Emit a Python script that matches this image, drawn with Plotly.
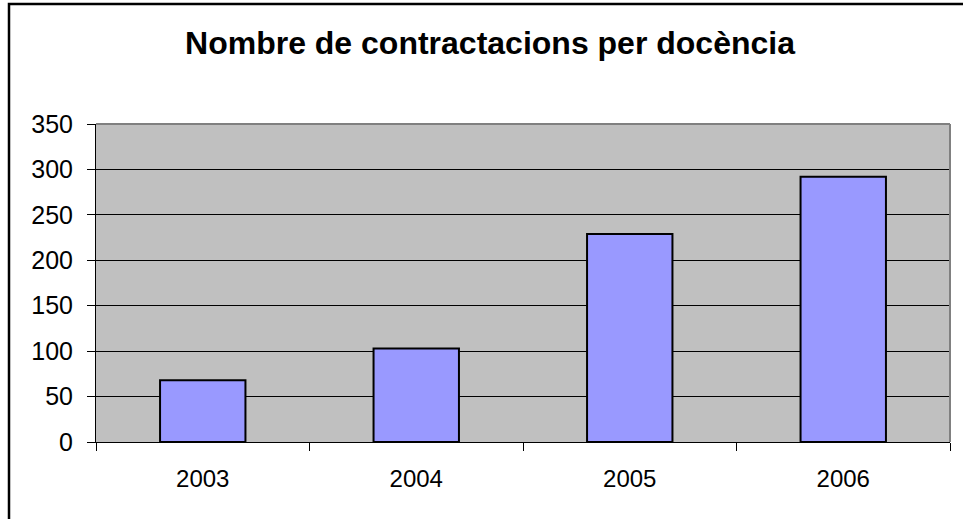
import plotly.graph_objects as go

years = ["2003", "2004", "2005", "2006"]
contractacions = [68, 103, 229, 292]
y_ticks = [0, 50, 100, 150, 200, 250, 300, 350]

fig = go.Figure(go.Bar(
    x=years, y=contractacions,
    marker=dict(color="#9999FF", line=dict(color="black", width=2)),
    width=0.4,
))

fig.update_layout(
    width=963, height=519,
    margin=dict(l=96, r=13, t=124, b=77),
    paper_bgcolor="white",
    plot_bgcolor="#C0C0C0",
    font=dict(family="Liberation Sans, Arial", color="black"),
    showlegend=False,
    title=dict(
        text="<b>Nombre de contractacions per docència</b>",
        x=490 / 963, xanchor="center",
        y=1 - 43 / 519, yanchor="middle",
        font=dict(size=32, color="black"),
    ),
    shapes=[
        # outer chart border (only top/left visible in the frame)
        dict(type="rect", xref="paper", yref="paper",
             x0=(9 - 96) / 854, x1=(975 - 96) / 854,
             y0=(442 - 535) / 318, y1=(442 - 4) / 318,
             line=dict(color="black", width=2.5), layer="above"),
        # plot-area top/right edges in grey
        dict(type="line", xref="paper", yref="paper", x0=0, x1=1, y0=1, y1=1,
             line=dict(color="#808080", width=2), layer="above"),
        dict(type="line", xref="paper", yref="paper", x0=1, x1=1, y0=0, y1=1,
             line=dict(color="#808080", width=2), layer="above"),
    ],
)

fig.update_xaxes(
    type="category", tickson="boundaries",
    showline=True, linecolor="black", linewidth=1,
    ticks="outside", ticklen=8, tickcolor="black", tickwidth=1,
    tickfont=dict(size=24), ticklabelstandoff=15, showgrid=False,
)
fig.update_yaxes(
    range=[0, 350], tickvals=y_ticks,
    showline=True, linecolor="black", linewidth=1,
    ticks="outside", ticklen=8, tickcolor="black", tickwidth=1,
    tickfont=dict(size=25), ticklabelstandoff=9,
    showgrid=True, gridcolor="black", gridwidth=1,
    zeroline=False,
)

# drop the page's default body margin so the figure sits at the corner
fig.write_html("out.html", config={"displayModeBar": False},
               post_script="document.body.style.margin='0';")
